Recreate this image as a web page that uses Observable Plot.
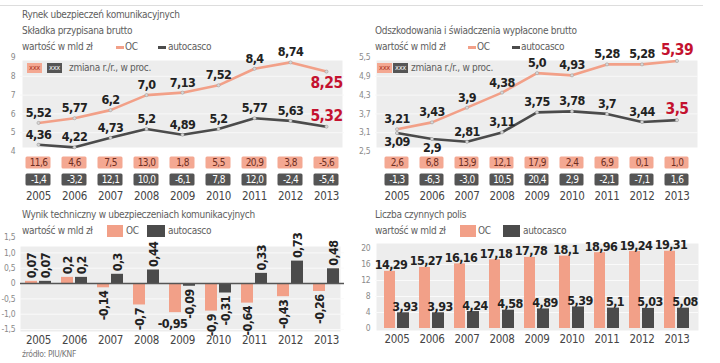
<!DOCTYPE html>
<html><head><meta charset="utf-8">
<script src="https://cdn.jsdelivr.net/npm/d3@7"></script>
<script src="https://cdn.jsdelivr.net/npm/@observablehq/plot@0.6"></script>
<style>
body{margin:0;background:#fff;}
#root{position:relative;width:720px;height:363px;overflow:hidden;font-family:"DejaVu Sans Condensed","Liberation Sans Narrow",sans-serif;}
.t{position:absolute;white-space:nowrap;color:#5e5e5e;font-size:10px;line-height:12px;letter-spacing:-0.3px;}
.p{position:absolute;}
.p text{letter-spacing:-0.6px;}
.dash{position:absolute;height:3px;width:8px;}
.sw{position:absolute;height:12px;}
.lb{position:absolute;height:10px;font-size:7.5px;line-height:10px;text-align:center;letter-spacing:-0.3px;}
.p g[aria-label^="x-axis"] text{font-size:11.5px;fill:#454545;letter-spacing:-0.3px;}
.p g[aria-label^="y-axis"] text{font-size:8.5px;fill:#8a8a8a;letter-spacing:-0.2px;}
</style></head>
<body><div id="root"></div>
<script>
const years = [2005, 2006, 2007, 2008, 2009, 2010, 2011, 2012, 2013];

// Składka przypisana brutto (mld zł)
const skladkaOC = [5.52, 5.77, 6.2, 7.0, 7.13, 7.52, 8.4, 8.74, 8.25];
const skladkaAC = [4.36, 4.22, 4.73, 5.2, 4.89, 5.2, 5.77, 5.63, 5.32];
const skladkaZmOC = [11.6, 4.6, 7.5, 13.0, 1.8, 5.5, 20.9, 3.8, -5.6];
const skladkaZmAC = [-1.4, -3.2, 12.1, 10.0, -6.1, 7.8, 12.0, -2.4, -5.4];

// Odszkodowania i świadczenia wypłacone brutto (mld zł)
const odszOC = [3.21, 3.43, 3.9, 4.38, 5.0, 4.93, 5.28, 5.28, 5.39];
const odszAC = [3.09, 2.9, 2.81, 3.11, 3.75, 3.78, 3.7, 3.44, 3.5];
const odszZmOC = [2.6, 6.8, 13.9, 12.1, 17.9, 2.4, 6.9, 0.1, 1.0];
const odszZmAC = [-1.3, -6.3, -3.0, 10.5, 20.4, 2.9, -2.1, -7.1, 1.6];

// Wynik techniczny (mld zł)
const wynikOC = [0.07, 0.2, -0.14, -0.7, -0.95, -0.9, -0.64, -0.43, -0.26];
const wynikAC = [0.07, 0.2, 0.3, 0.44, -0.09, -0.31, 0.33, 0.73, 0.48];

// Liczba czynnych polis
const polisyOC = [14.29, 15.27, 16.16, 17.18, 17.78, 18.1, 18.96, 19.24, 19.31];
const polisyAC = [3.93, 3.93, 4.24, 4.58, 4.89, 5.39, 5.1, 5.03, 5.08];

// tick labels
const ticksSkladka = [4, 5, 6, 7, 8, 9];
const ticksOdsz = [2.5, 3.1, 3.7, 4.3, 4.9, 5.5];
const ticksWynik = [-1.5, -1.0, -0.5, 0, 0.5, 1.0, 1.5];
const ticksPolisy = [0, 4, 8, 12, 16, 20];

const FONT = '"DejaVu Sans Condensed","Liberation Sans Narrow",sans-serif';
const COL_OC = "#f2a088", COL_AC = "#4b4b4b", COL_BG = "#ededed", COL_RED = "#c4122f";
const BOX_OC = "#f4a892", BOX_AC = "#555555";

const fmt = v => (Number.isInteger(v) ? v.toFixed(1) : String(v)).replace(".", ",");
const fmt1 = v => v.toFixed(1).replace(".", ",");
const fmtTick = d => String(d).replace(".", ",");
const fmtTick1 = d => d === 0 ? "0" : d.toFixed(1).replace(".", ",");

const root = document.getElementById("root");
function place(el, left, top) {
  const d = document.createElement("div");
  d.className = "p"; d.style.left = left + "px"; d.style.top = top + "px";
  d.appendChild(el); root.appendChild(d);
}

function linePanel({oc, ac, ticks, ml, mr, insetL, insetR, belowOC = [], belowAC = []}) {
  const data = years.map((year, i) => ({year, oc: oc[i], ac: ac[i], i}));
  const last = data.length - 1;
  const txt = {x: "year", fontWeight: "bold", fontSize: 12.5, fill: "#222"};
  return Plot.plot({
    width: 350, height: 105, marginTop: 7, marginBottom: 4, marginLeft: ml, marginRight: mr,
    x: {type: "band", domain: years, padding: 0, axis: null},
    y: {domain: [ticks[0], ticks[ticks.length - 1]], ticks, tickSize: 0, tickPadding: 5, tickFormat: fmtTick, label: null},
    style: {background: "transparent", fontFamily: FONT, overflow: "visible"},
    marks: [
      Plot.frame({fill: COL_BG, stroke: "none", insetTop: 3, insetBottom: 4, insetLeft: insetL, insetRight: insetR}),
      Plot.ruleY(ticks.slice(1, -1), {stroke: "#f8f8f8", strokeWidth: 1}),
      Plot.lineY(data, {x: "year", y: "oc", stroke: COL_OC, strokeWidth: 2.6}),
      Plot.lineY(data, {x: "year", y: "ac", stroke: COL_AC, strokeWidth: 2.6}),
      Plot.dot(data, {x: "year", y: "oc", r: 1.6, fill: "#d8d8d8", stroke: "#999", strokeWidth: 0.5}),
      Plot.dot(data, {x: "year", y: "ac", r: 1.6, fill: "#d8d8d8", stroke: "#999", strokeWidth: 0.5}),
      Plot.text(data.filter(d => d.i < last && !belowOC.includes(d.i)), {...txt, y: "oc", text: d => fmt(d.oc), dy: -10}),
      Plot.text(data.filter(d => d.i < last && belowOC.includes(d.i)), {...txt, y: "oc", text: d => fmt(d.oc), dy: 10}),
      Plot.text(data.filter(d => d.i < last && !belowAC.includes(d.i)), {...txt, y: "ac", text: d => fmt(d.ac), dy: -10}),
      Plot.text(data.filter(d => d.i < last && belowAC.includes(d.i)), {...txt, y: "ac", text: d => fmt(d.ac), dy: 9}),
      Plot.text(data.filter(d => d.i === last), {...txt, fontSize: 15.5, fill: COL_RED, y: "oc", text: d => fmt(d.oc), dy: belowOC.includes(last) ? 11 : -11}),
      Plot.text(data.filter(d => d.i === last), {...txt, fontSize: 15.5, fill: COL_RED, y: "ac", text: d => fmt(d.ac), dy: -11})
    ]
  });
}

function boxPanel({zoc, zac, ml, mr}) {
  const rows = years.flatMap((year, i) => [{year, s: "OC", v: zoc[i]}, {year, s: "autocasco", v: zac[i]}]);
  const oc = rows.filter(d => d.s === "OC"), ac = rows.filter(d => d.s !== "OC");
  const cellOpt = {x: "year", y: "s", insetLeft: 5.5, insetRight: 5.5, insetTop: 2.5, insetBottom: 2.5, rx: 1.5};
  const txtOpt = {x: "year", y: "s", text: d => fmt1(d.v), fontSize: 10};
  return Plot.plot({
    width: 350, height: 50, marginTop: 0, marginBottom: 16, marginLeft: ml, marginRight: mr,
    x: {type: "band", domain: years, padding: 0, tickSize: 0, tickPadding: 3, label: null, tickFormat: d => String(d)},
    y: {type: "band", domain: ["OC", "autocasco"], padding: 0, axis: null},
    style: {background: "transparent", fontFamily: FONT, overflow: "visible"},
    marks: [
      Plot.cell(oc, {...cellOpt, fill: BOX_OC}),
      Plot.cell(ac, {...cellOpt, fill: BOX_AC}),
      Plot.text(oc, {...txtOpt, fill: "#6e2f22"}),
      Plot.text(ac, {...txtOpt, fill: "#ffffff"})
    ]
  });
}

// top-left
place(linePanel({oc: skladkaOC, ac: skladkaAC, ticks: ticksSkladka, ml: 20, mr: 6, insetL: 2, insetR: 2, belowOC: [8]}), 0, 50);
place(boxPanel({zoc: skladkaZmOC, zac: skladkaZmAC, ml: 20, mr: 6}), 0, 154);
// top-right
place(linePanel({oc: odszOC, ac: odszAC, ticks: ticksOdsz, ml: 15, mr: 12, insetL: 1, insetR: 1, belowAC: [0, 1]}), 360, 50);
place(boxPanel({zoc: odszZmOC, zac: odszZmAC, ml: 15, mr: 12}), 360, 154);

// bottom-left: wynik techniczny
(function () {
  const data = years.map((year, i) => ({year, oc: wynikOC[i], ac: wynikAC[i], i}));
  const lab = {fontWeight: "bold", fontSize: 12.5, fill: "#222", rotate: -90};
  const special = d => d.year === 2009; // horizontal label for -0,95
  const svg = Plot.plot({
    width: 350, height: 121, marginTop: 7, marginBottom: 22, marginLeft: 20, marginRight: 6,
    x: {type: "band", domain: years, padding: 0, tickSize: 0, tickPadding: 6, label: null, tickFormat: d => String(d)},
    y: {domain: [-1.5, 1.5], ticks: ticksWynik, tickSize: 0, tickPadding: 5, tickFormat: fmtTick1, label: null},
    style: {background: "transparent", fontFamily: FONT, overflow: "visible"},
    marks: [
      Plot.frame({fill: COL_BG, stroke: "none", insetTop: 9, insetBottom: -2, insetLeft: 0, insetRight: 4}),
      Plot.ruleY(ticksWynik.filter(d => d !== 0 && d !== 1.5), {stroke: "#fafafa", strokeWidth: 1}),
      Plot.barY(data, {x: "year", y: "oc", fill: COL_OC, insetLeft: 5, insetRight: 19}),
      Plot.barY(data, {x: "year", y: "ac", fill: COL_AC, insetLeft: 19, insetRight: 5}),
      Plot.ruleY([0], {stroke: "#555", strokeWidth: 1.3}),
      Plot.text(data.filter(d => d.oc >= 0), {...lab, x: "year", y: "oc", text: d => fmt(d.oc), textAnchor: "start", dx: -7, dy: -3}),
      Plot.text(data.filter(d => d.oc < 0 && !special(d)), {...lab, x: "year", y: "oc", text: d => fmt(d.oc), textAnchor: "end", dx: -7, dy: 3}),
      Plot.text(data.filter(d => d.oc < 0 && special(d)), {fontWeight: "bold", fontSize: 12.5, fill: "#222", x: "year", y: "oc", text: d => fmt(d.oc), dx: -10, dy: 11}),
      Plot.text(data.filter(d => d.ac >= 0), {...lab, x: "year", y: "ac", text: d => fmt(d.ac), textAnchor: "start", dx: 7, dy: -3}),
      Plot.text(data.filter(d => d.ac < 0), {...lab, x: "year", y: "ac", text: d => fmt(d.ac), textAnchor: "end", dx: 7, dy: 3})
    ]
  });
  place(svg, 0, 230);
})();

// bottom-right: liczba polis
(function () {
  const data = years.map((year, i) => ({year, oc: polisyOC[i], ac: polisyAC[i]}));
  const lab = {fontWeight: "bold", fontSize: 12.5, fill: "#222", lineAnchor: "bottom"};
  const svg = Plot.plot({
    width: 350, height: 121, marginTop: 18, marginBottom: 23, marginLeft: 15, marginRight: 12,
    x: {type: "band", domain: years, padding: 0, tickSize: 0, tickPadding: 6, label: null, tickFormat: d => String(d)},
    y: {domain: [0, 20], ticks: ticksPolisy, tickSize: 0, tickPadding: 5, tickFormat: fmtTick, label: null},
    style: {background: "transparent", fontFamily: FONT, overflow: "visible"},
    marks: [
      Plot.frame({fill: COL_BG, stroke: "none", insetTop: -5, insetBottom: -2, insetLeft: 1, insetRight: 0}),
      Plot.ruleY(ticksPolisy.slice(1, -1), {stroke: "#fafafa", strokeWidth: 1}),
      Plot.barY(data, {x: "year", y: "oc", fill: COL_OC, insetLeft: 5, insetRight: 19}),
      Plot.barY(data, {x: "year", y: "ac", fill: COL_AC, insetLeft: 18, insetRight: 5}),
      Plot.text(data, {...lab, x: "year", y: "oc", text: d => fmt(d.oc), dx: -6, dy: -2}),
      Plot.text(data, {...lab, x: "year", y: "ac", text: d => fmt(d.ac), dx: 8, dy: -2})
    ]
  });
  place(svg, 360, 230);
})();

// ---- HTML text: titles, legends ----
function text(str, left, cy, extra = "") {
  const d = document.createElement("div");
  d.className = "t"; d.textContent = str;
  d.style.left = left + "px"; d.style.top = (cy - 6) + "px";
  if (extra) d.style.cssText += extra;
  root.appendChild(d); return d;
}
function rect(cls, left, top, w, h, color) {
  const d = document.createElement("div");
  d.className = cls; d.style.left = left + "px"; d.style.top = top + "px";
  d.style.width = w + "px"; d.style.height = h + "px"; d.style.background = color;
  root.appendChild(d); return d;
}
// top rule
rect("dash", 0, 5, 703, 1, "#dddddd");

text("Rynek ubezpieczeń komunikacyjnych", 22, 15);
text("Składka przypisana brutto", 22, 31);
text("wartość w mld zł", 22, 47);
rect("dash", 116, 46, 8, 3, COL_OC); text("OC", 125, 47);
rect("dash", 158, 46, 8, 3, COL_AC); text("autocasco", 168, 47);

text("Odszkodowania i świadczenia wypłacone brutto", 375, 31);
text("wartość w mld zł", 375, 47);
rect("dash", 468, 46, 8, 3, COL_OC); text("OC", 477, 47);
rect("dash", 512, 46, 8, 3, COL_AC); text("autocasco", 521, 47);

function changeLegend(x0, x1, xt) {
  const a = rect("lb", x0, 63, 15, 10, BOX_OC); a.textContent = "xxx"; a.style.color = "#b03a2a";
  const b = rect("lb", x1, 63, 15, 10, BOX_AC); b.textContent = "xxx"; b.style.color = "#eee";
  text("zmiana r./r., w proc.", xt, 68);
}
changeLegend(27, 47, 69);
changeLegend(377, 393, 411);

text("Wynik techniczny w ubezpieczeniach komunikacyjnych", 22, 215);
text("wartość w mld zł", 22, 231);
rect("sw", 107, 225, 16, 12, COL_OC); text("OC", 126, 231);
rect("sw", 147, 225, 18, 12, COL_AC); text("autocasco", 168, 231);

text("Liczba czynnych polis", 375, 215);
text("wartość w mld zł", 375, 231);
rect("sw", 460, 225, 16, 12, COL_OC); text("OC", 478, 231);
rect("sw", 503, 225, 17, 12, COL_AC); text("autocasco", 523, 231);

text("źródło: PIU/KNF", 22, 354, "font-size:8.5px;color:#777;");
</script>
</body></html>
